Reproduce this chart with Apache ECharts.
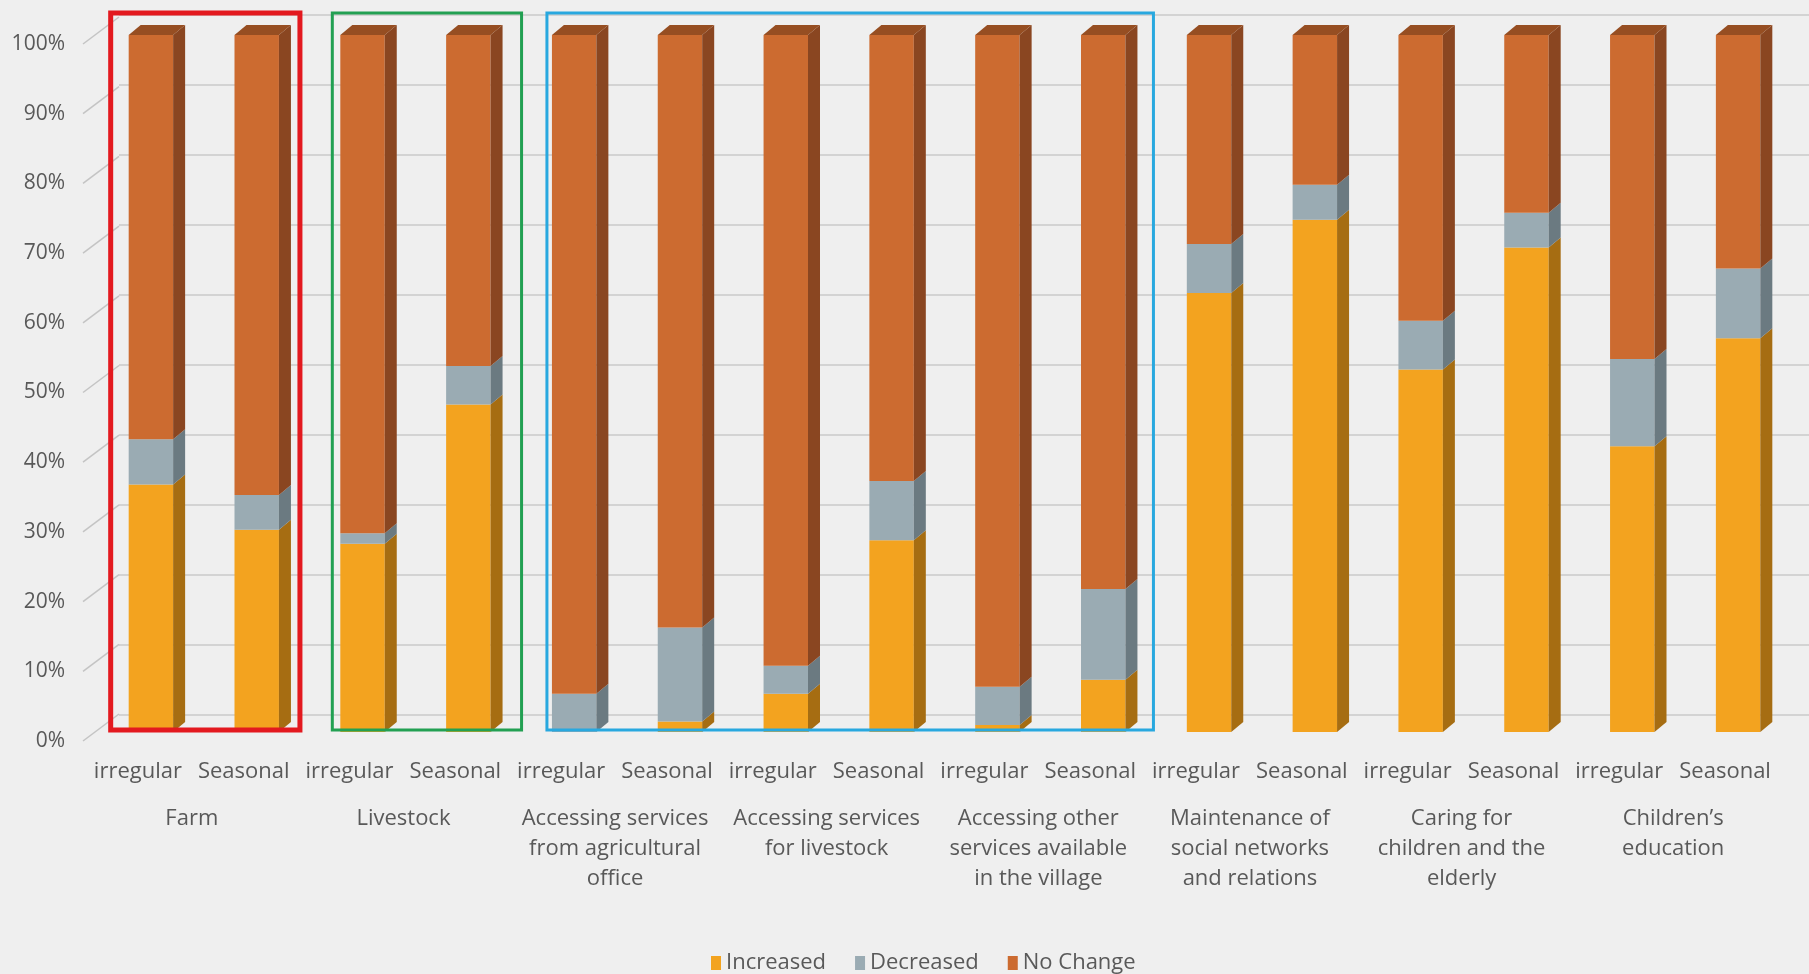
<!DOCTYPE html>
<html>
<head>
<meta charset="utf-8">
<script src="https://cdn.jsdelivr.net/npm/echarts@6/dist/echarts.min.js"></script>
<style>
  html, body { margin: 0; padding: 0; background: #efefef; }
  #chart { width: 1809px; height: 974px; }
</style>
</head>
<body>
<div id="chart"></div>
<script>
// ---- data -------------------------------------------------------------
const migrationTypes = [
  'irregular', 'Seasonal', 'irregular', 'Seasonal', 'irregular', 'Seasonal', 'irregular', 'Seasonal',
  'irregular', 'Seasonal', 'irregular', 'Seasonal', 'irregular', 'Seasonal', 'irregular', 'Seasonal'
];
const activities = [
  'Farm',
  'Livestock',
  'Accessing services\nfrom agricultural\noffice',
  'Accessing services\nfor livestock',
  'Accessing other\nservices available\nin the village',
  'Maintenance of\nsocial networks\nand relations',
  'Caring for\nchildren and the\nelderly',
  'Children\u2019s\neducation'
];
const increased = [35.5, 29, 27, 47, 0, 1.5, 5.5, 27.5, 1, 7.5, 63, 73.5, 52, 69.5, 41, 56.5];
const decreased = [6.5, 5, 1.5, 5.5, 5.5, 13.5, 4, 8.5, 5.5, 13, 7, 5, 7, 5, 12.5, 10];
const noChange  = [58, 66, 71.5, 47.5, 94.5, 85, 90.5, 64, 93.5, 79.5, 30, 21.5, 41, 25.5, 46.5, 33.5];
const seriesNames = ['Increased', 'Decreased', 'No Change'];
const yTicks = [0, 10, 20, 30, 40, 50, 60, 70, 80, 90, 100];
// highlighted activity groups: [first bar, last bar]
const groupBoxes = [[0, 1], [2, 3], [4, 9]];

// ---- styles -----------------------------------------------------------
const FONT = '"Open Sans", Lato, sans-serif';
const TEXT = '#595959';
const DEPTH_X = 12, DEPTH_Y = 10;      // extrusion of the 3-D columns
const BAR_RATIO = 0.42;                // front face width / category band
const faceColors = [
  { face: '#F3A31F', side: '#A66D12', top: '#B07414' },
  { face: '#9AABB3', side: '#6B7A81', top: '#75858C' },
  { face: '#CC6B30', side: '#8A4621', top: '#964E22' }
];
const boxStyles = [
  { stroke: '#E3191F', width: 5, padL: 18, padR: 9 },
  { stroke: '#22A052', width: 3, padL: 8, padR: 19 },
  { stroke: '#28A8DF', width: 3, padL: 5, padR: 16 }
];

// ---- build stacked rows ------------------------------------------------
const stacks = [increased, decreased, noChange];
const totals = increased.map((v, i) => v + decreased[i] + noChange[i]);
const runBase = increased.map(() => 0);
const stackRows = stacks.map(vals => vals.map((v, i) => {
  const row = [i, runBase[i], runBase[i] + v, totals[i]];
  runBase[i] += v;
  return row;
}));

function columnSegment(colors) {
  return function (params, api) {
    const i = api.value(0), s0 = api.value(1), s1 = api.value(2), tot = api.value(3);
    if (s1 - s0 <= 0) return null;
    const w = api.size([1, 0])[0] * BAR_RATIO;
    const cx = api.coord([i, 0])[0];
    const yb = api.coord([i, s0])[1];
    const yt = api.coord([i, s1])[1];
    const xl = cx - w / 2, xr = cx + w / 2;
    const children = [
      { type: 'rect', shape: { x: xl, y: yt, width: w, height: yb - yt }, style: { fill: colors.face } },
      { type: 'polygon', shape: { points: [[xr, yt], [xr + DEPTH_X, yt - DEPTH_Y], [xr + DEPTH_X, yb - DEPTH_Y], [xr, yb]] },
        style: { fill: colors.side } }
    ];
    if (Math.abs(s1 - tot) < 1e-6) {
      children.push({ type: 'polygon',
        shape: { points: [[xl, yt], [xl + DEPTH_X, yt - DEPTH_Y], [xr + DEPTH_X, yt - DEPTH_Y], [xr, yt]] },
        style: { fill: colors.top } });
    }
    return { type: 'group', children };
  };
}

const columnSeries = seriesNames.map((name, k) => ({
  name,
  type: 'custom',
  xAxisIndex: 1,
  yAxisIndex: 1,
  itemStyle: { color: faceColors[k].face },
  encode: { x: 0, y: [1, 2] },
  data: stackRows[k],
  renderItem: columnSegment(faceColors[k]),
  z: 3
}));

const boxSeries = {
  type: 'custom',
  xAxisIndex: 1,
  yAxisIndex: 1,
  silent: true,
  z: 5,
  data: groupBoxes.map((b, k) => [b[0], b[1], k]),
  encode: { x: [0, 1] },
  renderItem: function (params, api) {
    const from = api.value(0), to = api.value(1), st = boxStyles[api.value(2)];
    const w = api.size([1, 0])[0] * BAR_RATIO;
    const xl = api.coord([from, 0])[0] - w / 2 - st.padL;
    const xr = api.coord([to, 0])[0] + w / 2 + DEPTH_X + st.padR;
    const yt = api.coord([from, 100])[1] - 22;
    const yb = api.coord([from, 0])[1] - 2;
    return { type: 'rect', shape: { x: xl, y: yt, width: xr - xl, height: yb - yt },
      style: { fill: 'none', stroke: st.stroke, lineWidth: st.width } };
  }
};

// slanted floor ticks, from each front value label up to the back-wall gridline
const slantSeries = {
  type: 'custom',
  xAxisIndex: 1,
  yAxisIndex: 1,
  silent: true,
  z: 1,
  data: yTicks.map(v => [0, v]),
  encode: { y: 1 },
  renderItem: function (params, api) {
    const p = api.coord([0, api.value(1)]);
    const edge = p[0] - api.size([1, 0])[0] / 2;   // left edge of the column plot
    return { type: 'line',
      shape: { x1: edge - 15, y1: p[1] + 9, x2: edge + 21, y2: p[1] - 18 },
      style: { stroke: '#c4c4c4', lineWidth: 1.5 } };
  }
};

const chart = echarts.init(document.getElementById('chart'));
chart.setOption({
  backgroundColor: '#efefef',
  animation: false,
  textStyle: { fontFamily: FONT },
  grid: [
    { left: 119, right: 0, top: 15, bottom: 259 },   // back wall
    { left: 98, right: 18, top: 35, bottom: 242 },   // columns
    { left: 83, width: 40, top: 44, bottom: 233 }    // front value scale
  ],
  xAxis: [
    { gridIndex: 0, type: 'value', min: 0, max: 1, show: false },
    { gridIndex: 1, type: 'category', data: migrationTypes, position: 'bottom',
      axisLine: { show: false }, axisTick: { show: false },
      axisLabel: { interval: 0, margin: 28, fontSize: 22, lineHeight: 24, color: TEXT, fontFamily: FONT,
        padding: [0, 26, 0, 0] } },
    { gridIndex: 1, type: 'category', data: activities, position: 'bottom',
      axisLine: { show: false }, axisTick: { show: false },
      axisLabel: { interval: 0, margin: 72, fontSize: 22, lineHeight: 30, color: TEXT, fontFamily: FONT,
        align: 'center', padding: [0, 24, 0, 0] } },
    { gridIndex: 2, type: 'value', min: 0, max: 1, show: false }
  ],
  yAxis: [
    { gridIndex: 0, type: 'value', min: 0, max: 100, interval: 10,
      axisLine: { show: false }, axisTick: { show: false }, axisLabel: { show: false },
      splitLine: { lineStyle: { color: '#d3d3d3', width: 2 } } },
    { gridIndex: 1, type: 'value', min: 0, max: 100, interval: 10, show: false },
    { gridIndex: 2, type: 'value', min: 0, max: 100, interval: 10,
      axisLine: { show: false }, axisTick: { show: false }, splitLine: { show: false },
      axisLabel: { formatter: '{value}%', margin: 18, fontSize: 21, color: TEXT, fontFamily: FONT } }
  ],
  legend: {
    data: seriesNames,
    left: 706,
    top: 947,
    icon: 'rect',
    itemWidth: 10,
    itemHeight: 14,
    itemGap: 29,
    textStyle: { fontSize: 22, color: TEXT, fontFamily: FONT }
  },
  series: [slantSeries].concat(columnSeries, [boxSeries])
});
</script>
</body>
</html>
